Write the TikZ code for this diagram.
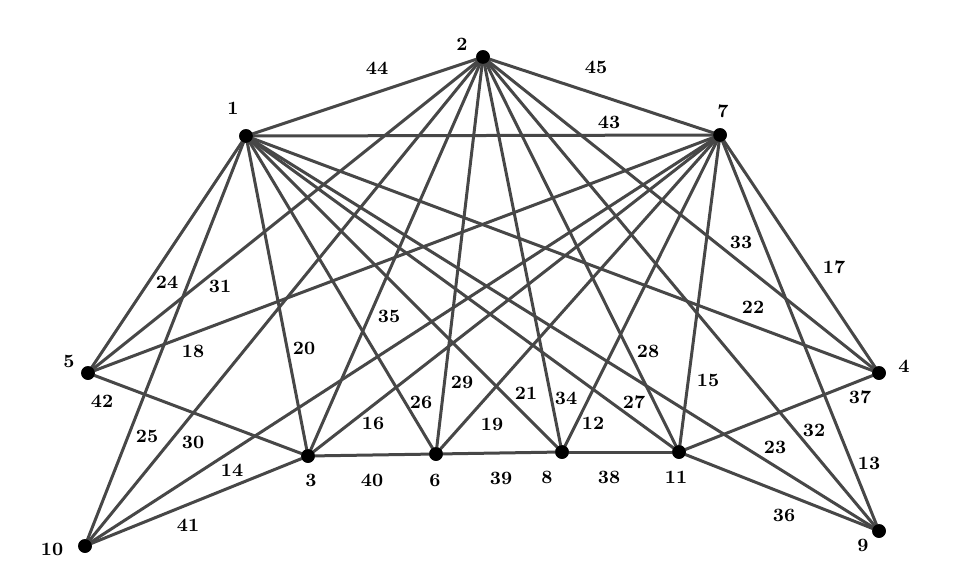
\documentclass[tikz,border=0pt]{standalone}
\begin{document}
\begin{tikzpicture}[x=0.5pt,y=-0.5pt,
  vtx/.style={circle,fill=black,inner sep=0pt,minimum size=6.8pt},
  edge/.style={draw=black!72,line width=1.5pt},
  lbl/.style={font=\fontsize{9.4}{11}\selectfont\bfseries,inner sep=0pt}]
\useasboundingbox (0,0) rectangle (954,585);
% vertices
\node[vtx] (n1) at (246,136) {};
\node[vtx] (n2) at (483,57) {};
\node[vtx] (n7) at (720,135) {};
\node[vtx] (n5) at (88,373) {};
\node[vtx] (n4) at (879,373) {};
\node[vtx] (n3) at (308,456) {};
\node[vtx] (n6) at (436,454) {};
\node[vtx] (n8) at (562,452) {};
\node[vtx] (n11) at (679,452) {};
\node[vtx] (n10) at (85,546) {};
\node[vtx] (n9) at (879,531) {};
% edges
\foreach \a/\b in {n1/n2,n2/n7,n1/n7,
  n1/n5,n1/n10,n1/n3,n1/n6,n1/n8,n1/n11,n1/n9,n1/n4,
  n2/n5,n2/n10,n2/n3,n2/n6,n2/n8,n2/n11,n2/n9,n2/n4,
  n7/n5,n7/n10,n7/n3,n7/n6,n7/n8,n7/n11,n7/n9,n7/n4,
  n5/n3,n3/n6,n6/n8,n8/n11,n11/n9,n11/n4,n10/n3}
  \draw[edge] (\a.center) -- (\b.center);
% redraw vertices on top
\foreach \n in {n1,n2,n7,n5,n4,n3,n6,n8,n11,n10,n9}
  \fill[black] (\n.center) circle (3.4pt);
% vertex labels
\node[lbl] (l1) at (233,108) {1};
\node[lbl] (l2) at (462,44) {2};
\node[lbl] (l7) at (723,111) {7};
\node[lbl] (l5) at (69,361) {5};
\node[lbl] (l4) at (904,366) {4};
\node[lbl] (l3) at (311,480) {3};
\node[lbl] (l6) at (435,480) {6};
\node[lbl] (l8) at (547,477) {8};
\node[lbl] (l11) at (676,477) {11};
\node[lbl] (l10) at (52,549) {10};
\node[lbl] (l9) at (863,545) {9};
% edge labels
\node[lbl] (e44) at (377,68) {44};
\node[lbl] (e45) at (596,67) {45};
\node[lbl] (e43) at (609,122) {43};
\node[lbl] (e33) at (741,242) {33};
\node[lbl] (e17) at (834,267) {17};
\node[lbl] (e22) at (753,307) {22};
\node[lbl] (e24) at (167,282) {24};
\node[lbl] (e31) at (220,286) {31};
\node[lbl] (e35) at (389,316) {35};
\node[lbl] (e18) at (193,351) {18};
\node[lbl] (e20) at (304,348) {20};
\node[lbl] (e42) at (102,401) {42};
\node[lbl] (e25) at (147,436) {25};
\node[lbl] (e30) at (193,442) {30};
\node[lbl] (e14) at (232,470) {14};
\node[lbl] (e41) at (188,525) {41};
\node[lbl] (e29) at (462,382) {29};
\node[lbl] (e26) at (421,402) {26};
\node[lbl] (e16) at (373,423) {16};
\node[lbl] (e21) at (526,393) {21};
\node[lbl] (e34) at (566,398) {34};
\node[lbl] (e12) at (593,423) {12};
\node[lbl] (e19) at (492,424) {19};
\node[lbl] (e40) at (372,480) {40};
\node[lbl] (e39) at (501,478) {39};
\node[lbl] (e38) at (609,477) {38};
\node[lbl] (e28) at (648,351) {28};
\node[lbl] (e15) at (708,380) {15};
\node[lbl] (e27) at (634,402) {27};
\node[lbl] (e37) at (860,397) {37};
\node[lbl] (e32) at (814,430) {32};
\node[lbl] (e23) at (775,447) {23};
\node[lbl] (e13) at (869,463) {13};
\node[lbl] (e36) at (784,515) {36};
\end{tikzpicture}
\end{document}
